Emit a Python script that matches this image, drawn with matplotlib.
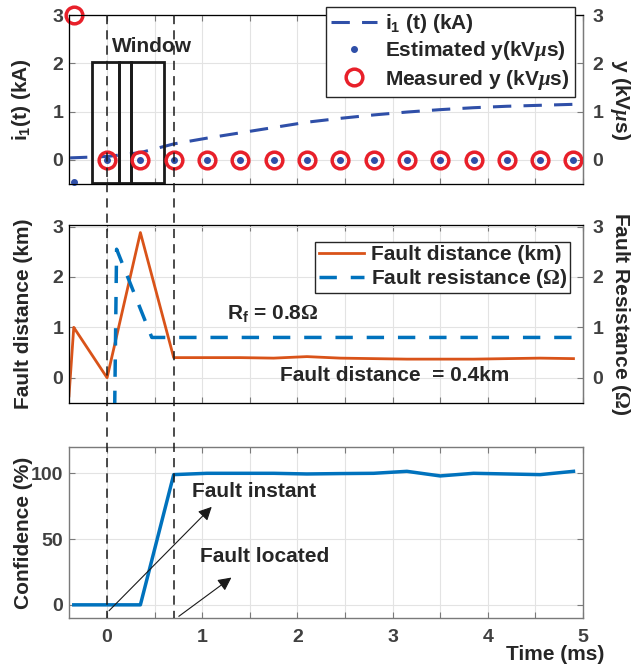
import matplotlib.pyplot as plt
import numpy as np
from matplotlib.patches import Rectangle
from matplotlib.lines import Line2D
import matplotlib.transforms as mtransforms

plt.rcParams['font.family'] = ['Liberation Sans', 'DejaVu Sans']
plt.rcParams['font.weight'] = 'bold'
plt.rcParams['axes.labelweight'] = 'bold'
plt.rcParams['mathtext.fontset'] = 'custom'
plt.rcParams['mathtext.rm'] = 'Liberation Serif'
plt.rcParams['mathtext.it'] = 'Liberation Serif:italic'
plt.rcParams['mathtext.sf'] = 'Liberation Sans:bold'

# top panel: current and y samples
y_t = [-0.35, 0.0, 0.35, 0.7, 1.05, 1.4, 1.75, 2.1, 2.45, 2.8, 3.15, 3.5, 3.85, 4.2, 4.55, 4.9]
y_measured = [3.0, 0, 0, 0, 0, 0, 0, 0, 0, 0, 0, 0, 0, 0, 0, 0]
y_estimated = [-0.45, 0, 0, 0, 0, 0, 0, 0, 0, 0, 0, 0, 0, 0, 0, 0]
i1_t = [-0.4, 0.0, 0.35, 0.7, 1.05, 1.4, 1.75, 2.1, 2.45, 2.8, 3.15, 3.5, 3.85, 4.2, 4.55, 4.9]
i1_ka = [0.04, 0.07, 0.15, 0.33, 0.45, 0.56, 0.67, 0.78, 0.86, 0.93, 0.99, 1.04, 1.08, 1.11, 1.13, 1.15]
win_left = [-0.16, 0.13, 0.25]
win_right = [0.13, 0.25, 0.60]

# middle panel
dist_t = [-0.4, -0.35, 0.0, 0.35, 0.7, 1.05, 1.4, 1.75, 2.1, 2.45, 2.8, 3.15, 3.5, 3.85, 4.2, 4.55, 4.9]
dist_km = [-0.36, 1.0, 0.0, 2.88, 0.40, 0.40, 0.40, 0.39, 0.42, 0.39, 0.38, 0.37, 0.37, 0.37, 0.38, 0.39, 0.38]
res_t = [0.08, 0.1, 0.47, 0.7, 1.05, 1.4, 1.75, 2.1, 2.45, 2.8, 3.15, 3.5, 3.85, 4.2, 4.55, 4.9]
res_ohm = [-0.6, 2.55, 0.8, 0.8, 0.8, 0.8, 0.8, 0.8, 0.8, 0.8, 0.8, 0.8, 0.8, 0.8, 0.8, 0.8]

# bottom panel
conf_t = [-0.35, 0.35, 0.7, 1.05, 1.4, 1.75, 2.1, 2.45, 2.8, 3.15, 3.5, 3.85, 4.2, 4.55, 4.9]
conf_pct = [0, 0, 99, 100, 100, 100, 99.5, 99.8, 100, 101.5, 98, 100, 99.5, 99, 101.5]

fault_instant = 0.0
fault_located = 0.7

tick_c = '#404040'
lab_c = '#262626'
spine_c = '#7a7a7a'
fs_tick = 14
fs_lab = 15
fs_txt = 15

fig = plt.figure(figsize=(6.33, 6.66), dpi=100)
W, H = 633, 666
def pos(top, bot):
    return [69 / W, 1 - bot / H, 514 / W, (bot - top) / H]

ax1 = fig.add_axes(pos(15, 184))
ax2 = fig.add_axes(pos(225, 403))
ax3 = fig.add_axes(pos(447, 618))

xt = np.arange(0, 5.01, 0.5)

def style(ax, labels=False):
    ax.set_xlim(-0.4, 5)
    ax.set_xticks(xt)
    if labels:
        ax.set_xticklabels([str(int(v)) if v == int(v) else '' for v in xt])
    else:
        ax.set_xticklabels([])
    ax.grid(True, color='#e3e3e3', lw=0.8)
    ax.set_axisbelow(True)
    for s in ax.spines.values():
        s.set_color(spine_c)
        s.set_linewidth(1)
    ax.tick_params(direction='in', length=4, color=spine_c, labelcolor=tick_c,
                   labelsize=fs_tick, top=True)
    ax.tick_params(axis='y', pad=4)
    ax.tick_params(axis='x', pad=8)

def style_right(ax):
    ax.tick_params(direction='in', length=4, color=spine_c, labelcolor=tick_c,
                   labelsize=fs_tick, pad=7)
    ax.spines['right'].set_color(spine_c)

# ---- top panel
style(ax1)
ax1.set_ylim(-0.5, 3)
ax1.set_yticks([0, 1, 2, 3])
ax1.tick_params(axis='y', right=False)
l_i1, = ax1.plot(i1_t, i1_ka, '--', color='#2f4fa8', lw=2.2, dashes=(6, 4), label=r'i$_\mathsf{1}$ (t) (kA)')
for a, b in zip(win_left, win_right):
    ax1.add_patch(Rectangle((a, -0.48), b - a, 2.51, fill=False, ec='#1a1a1a', lw=2, zorder=4))
ax1.text(0.05, 2.35, 'Window', fontsize=fs_txt, fontweight='bold', color=lab_c, va='center')
ax1.set_ylabel(r'i$_\mathsf{1}$(t) (kA)', fontsize=fs_lab, color=lab_c)
ax1.yaxis.set_label_coords(-0.07, 0.5)

ax1r = ax1.twinx()
ax1r.set_ylim(-0.5, 3)
ax1r.set_yticks([0, 1, 2, 3])
style_right(ax1r)
p_meas, = ax1r.plot(y_t, y_measured, 'o', ms=12, mfc='none', mec='#e8202a', mew=2.5,
                    clip_on=False, label=r'Measured y (kV$\mu$s)')
p_est, = ax1r.plot(y_t, y_estimated, '.', ms=8, color='#2f4fa8', clip_on=False,
                   label=r'Estimated y(kV$\mu$s)')
ax1r.set_ylabel(r'y (kV$\mu$s)', fontsize=fs_lab, color=lab_c, rotation=270)
ax1r.yaxis.set_label_coords(1.095, 0.5)
leg1 = ax1r.legend(handles=[l_i1, p_est, p_meas], loc='upper right', bbox_to_anchor=(0.984, 1.047),
                   fontsize=fs_txt, fancybox=False, framealpha=1, edgecolor='#262626',
                   borderpad=0.25, labelspacing=0.2, handletextpad=0.4, handlelength=2.2,
                   borderaxespad=0)
for t in leg1.get_texts():
    t.set_color(lab_c)
    t.set_fontweight('bold')
leg1.get_frame().set_linewidth(1)

# ---- middle panel
style(ax2)
ax2.set_ylim(-0.5, 3.03)
ax2.set_yticks([0, 1, 2, 3])
ax2.tick_params(axis='y', right=False)
l_d, = ax2.plot(dist_t, dist_km, '-', color='#d95319', lw=2, label='Fault distance (km)')
ax2.set_ylabel('Fault distance (km)', fontsize=fs_lab, color=lab_c)
ax2.yaxis.set_label_coords(-0.07, 0.5)
ax2.text(1.26, 1.28, r'R$_\mathsf{f}$ = 0.8$\Omega$', fontsize=fs_txt, fontweight='bold',
         color=lab_c, va='center')
ax2.text(1.82, 0.05, 'Fault distance  = 0.4km', fontsize=fs_txt, fontweight='bold',
         color=lab_c, va='center')

ax2r = ax2.twinx()
ax2r.set_ylim(-0.5, 3.03)
ax2r.set_yticks([0, 1, 2, 3])
style_right(ax2r)
l_r, = ax2r.plot(res_t, res_ohm, '--', color='#0072bd', lw=2.5, dashes=(5, 4),
                 label=r'Fault resistance ($\Omega$)')
ax2r.set_ylabel(r'Fault Resistance ($\Omega$)', fontsize=fs_lab, color=lab_c, rotation=270)
ax2r.yaxis.set_label_coords(1.095, 0.5)
leg2 = ax2r.legend(handles=[l_d, l_r], loc='upper right', bbox_to_anchor=(0.975, 0.904),
                   fontsize=fs_txt, fancybox=False, framealpha=1, edgecolor='#262626',
                   borderpad=0.15, labelspacing=0.15, handletextpad=0.3, handlelength=2.2,
                   borderaxespad=0)
for t in leg2.get_texts():
    t.set_color(lab_c)
    t.set_fontweight('bold')
leg2.get_frame().set_linewidth(1)

# ---- bottom panel
style(ax3, labels=True)
ax3.set_ylim(-10, 120)
ax3.set_yticks([0, 50, 100])
ax3.tick_params(axis='y', right=True)
ax3.plot(conf_t, conf_pct, '-', color='#0072bd', lw=2.5)
ax3.set_ylabel('Confidence (%)', fontsize=fs_lab, color=lab_c)
ax3.yaxis.set_label_coords(-0.07, 0.5)
ax3.set_xlabel('Time (ms)', fontsize=fs_txt, color=lab_c)
ax3.xaxis.set_label_coords(0.945, -0.16)
ax3.annotate('', xy=(1.12, 76), xytext=(fault_instant, -6),
             arrowprops=dict(arrowstyle='-|>', color='#1a1a1a', lw=0.8, mutation_scale=20),
             annotation_clip=False)
ax3.annotate('', xy=(1.33, 22), xytext=(fault_located + 0.03, -10),
             arrowprops=dict(arrowstyle='-|>', color='#1a1a1a', lw=0.8, mutation_scale=20),
             annotation_clip=False)
ax3.text(0.89, 86, 'Fault instant', fontsize=fs_txt, fontweight='bold', color=lab_c, va='center')
ax3.text(0.98, 37, 'Fault located', fontsize=fs_txt, fontweight='bold', color=lab_c, va='center')

# dashed markers through all panels
tr = mtransforms.blended_transform_factory(ax3.transData, fig.transFigure)
for xv in [fault_instant, fault_located]:
    fig.add_artist(Line2D([xv, xv], [1 - 15 / H, 1 - 618 / H], transform=tr, color='#1a1a1a',
                          lw=1.1, ls=(0, (6, 4)), zorder=10))

fig.savefig('out.png', dpi=100)
